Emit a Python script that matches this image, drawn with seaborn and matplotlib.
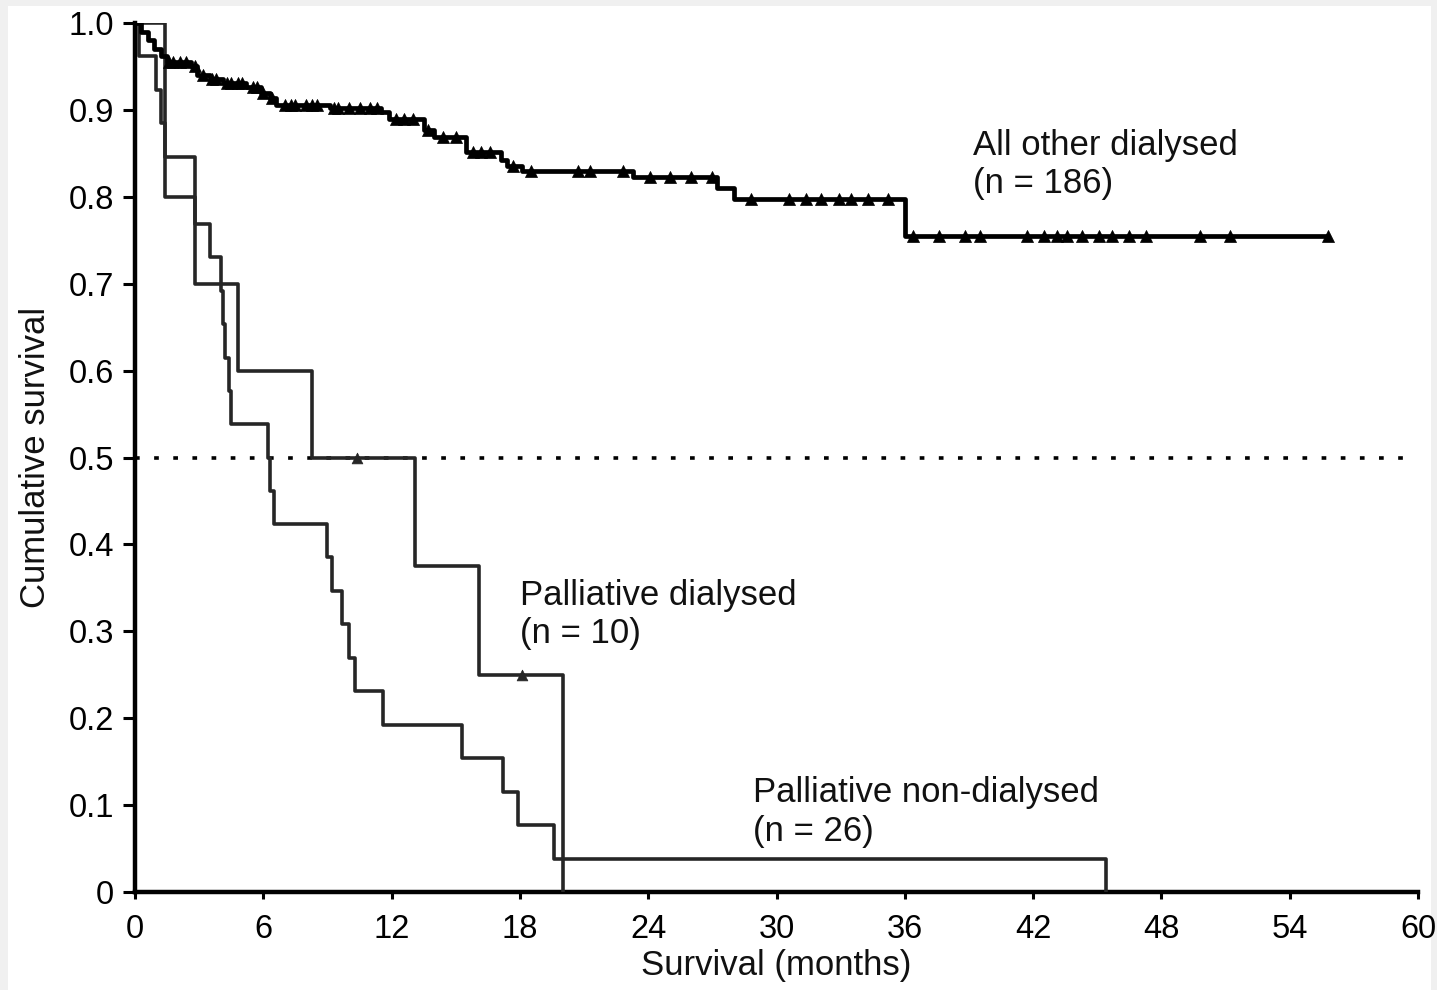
import numpy as np
import pandas as pd
import matplotlib
matplotlib.use("Agg")
import matplotlib.pyplot as plt
import seaborn as sns

# ---- Kaplan-Meier step data (months, cumulative survival) ----
other_times = [0, 0.3, 0.6, 0.9, 1.2, 1.5, 2.6, 2.9, 3.5, 4.1, 5.2, 5.9, 6.3, 6.6,
               9.1, 11.5, 11.9, 13.5, 14.0, 15.5, 17.1, 17.4, 18.1, 23.3, 27.2,
               28.0, 36.0]
other_surv = [1.0, 0.99, 0.98, 0.97, 0.962, 0.955, 0.95, 0.94, 0.935, 0.931, 0.926,
              0.92, 0.914, 0.906, 0.902, 0.898, 0.889, 0.877, 0.869, 0.852, 0.842,
              0.836, 0.830, 0.823, 0.810, 0.797, 0.755]
other_last_followup = 55.8
other_censored = [1.6, 1.8, 2.1, 2.4, 2.8, 3.2, 3.6, 3.8, 4.3, 4.5, 4.8, 5.0, 5.5,
                  5.7, 6.0, 6.4, 7.0, 7.3, 7.5, 8.0, 8.3, 8.5, 9.3, 9.5, 10.0, 10.5,
                  11.0, 11.3, 12.2, 12.6, 13.0, 13.7, 14.4, 15.0, 15.8, 16.2, 16.6,
                  17.7, 18.5, 20.7, 21.3, 22.8, 24.1, 25.0, 26.0, 27.0, 28.8, 30.6,
                  31.4, 32.1, 32.9, 33.5, 34.3, 35.2, 36.4, 37.6, 38.8, 39.5, 41.7,
                  42.5, 43.1, 43.6, 44.3, 45.1, 45.7, 46.5, 47.3, 49.8, 51.2, 55.8]

pal_dial_times = [0, 1.4, 2.8, 4.8, 8.3, 13.1, 16.1, 20.0]
pal_dial_surv = [1.0, 0.8, 0.7, 0.6, 0.5, 0.375, 0.25, 0.0]
pal_dial_censored = [10.4, 18.1]

pal_nondial_times = [0, 0.2, 1.0, 1.2, 1.4, 2.8, 3.5, 4.0, 4.1, 4.2, 4.4, 4.5, 6.2,
                     6.3, 6.5, 9.0, 9.2, 9.7, 10.0, 10.3, 11.6, 15.3, 17.2, 17.9,
                     19.6, 45.4]
pal_nondial_surv = [1.0, 0.962, 0.923, 0.885, 0.846, 0.769, 0.731, 0.692, 0.654,
                    0.615, 0.577, 0.538, 0.5, 0.462, 0.423, 0.385, 0.346, 0.308,
                    0.269, 0.231, 0.192, 0.154, 0.115, 0.077, 0.038, 0.0]

group_labels = ["All other dialysed\n(n = 186)",
                "Palliative dialysed\n(n = 10)",
                "Palliative non-dialysed\n(n = 26)"]
label_pos_x = [39.2, 18.0, 28.9]
label_pos_y = [0.837, 0.319, 0.092]

x_ticks = [0, 6, 12, 18, 24, 30, 36, 42, 48, 54, 60]
y_ticks = [0, 0.1, 0.2, 0.3, 0.4, 0.5, 0.6, 0.7, 0.8, 0.9, 1.0]
y_tick_labels = ["0", "0.1", "0.2", "0.3", "0.4", "0.5", "0.6", "0.7", "0.8", "0.9", "1.0"]
median_line = 0.5

# ---- style ----
sns.set_theme(style="white")
plt.rcParams["font.family"] = ["Liberation Sans", "DejaVu Sans"]
FS = 23.5
FS_TXT = 25

fig = plt.figure(figsize=(14.37, 9.9), dpi=100, facecolor="#f0f0f0")
# white panel inside the thin grey frame
fig.patches.append(plt.Rectangle((8 / 1437, 0), 1423 / 1437, 984 / 990,
                                 transform=fig.transFigure, facecolor="white",
                                 edgecolor="none", zorder=-10))
ax = fig.add_axes([135 / 1437, 98 / 990, 1283 / 1437, 869 / 990])
ax.set_facecolor("none")
ax.set_zorder(1)


def surv_at(times, surv, t):
    idx = np.searchsorted(np.asarray(times), np.asarray(t), side="right") - 1
    return np.asarray(surv)[idx]


def step_curve(times, surv, color, lw, end=None):
    t = list(times)
    s = list(surv)
    if end is not None:
        t.append(end)
        s.append(s[-1])
    df = pd.DataFrame({"month": t, "survival": s})
    sns.lineplot(data=df, x="month", y="survival", estimator=None, sort=False,
                 drawstyle="steps-post", color=color, linewidth=lw, ax=ax,
                 zorder=3)


def censor_marks(times, surv, cens, color, size):
    df = pd.DataFrame({"month": cens, "survival": surv_at(times, surv, cens)})
    sns.scatterplot(data=df, x="month", y="survival", marker="^", s=size,
                    color=color, edgecolor=color, linewidth=0.5, ax=ax, zorder=4)


# median reference
ax.axhline(median_line, xmin=0, xmax=0.994, color="black", linewidth=2.6,
           linestyle=(0, (1.3, 4.0)), zorder=2)

step_curve(pal_nondial_times, pal_nondial_surv, "#262626", 2.6)
step_curve(pal_dial_times, pal_dial_surv, "#262626", 2.6)
censor_marks(pal_dial_times, pal_dial_surv, pal_dial_censored, "#262626", 60)

step_curve(other_times, other_surv, "black", 3.4, end=other_last_followup)
censor_marks(other_times, other_surv, other_censored, "black", 75)

for lab, lx, ly in zip(group_labels, label_pos_x, label_pos_y):
    ax.text(lx, ly, lab, fontsize=FS_TXT, ha="left", va="center", color="#111111",
            linespacing=1.2)

# ---- axes ----
ax.set_xlim(0, 60)
ax.set_ylim(0, 1.0)
ax.set_xticks(x_ticks)
ax.set_xticklabels([str(v) for v in x_ticks])
ax.set_yticks(y_ticks)
ax.set_yticklabels(y_tick_labels)
ax.tick_params(axis="y", direction="out", length=9, width=2.2, pad=6,
               labelsize=FS, colors="black", left=True)
ax.tick_params(axis="x", direction="out", length=5, width=2.2, pad=11,
               labelsize=FS, colors="black", bottom=True)
for side in ["top", "right"]:
    ax.spines[side].set_visible(False)
for side in ["left", "bottom"]:
    ax.spines[side].set_visible(True)
    ax.spines[side].set_color("black")
    ax.spines[side].set_linewidth(3.2)
ax.set_xlabel("Survival (months)", fontsize=FS_TXT, labelpad=3, color="#111111")
ax.set_ylabel("Cumulative survival", fontsize=FS_TXT, labelpad=12, color="#111111")
ax.grid(False)

fig.savefig("out.png", dpi=100, facecolor=fig.get_facecolor())
